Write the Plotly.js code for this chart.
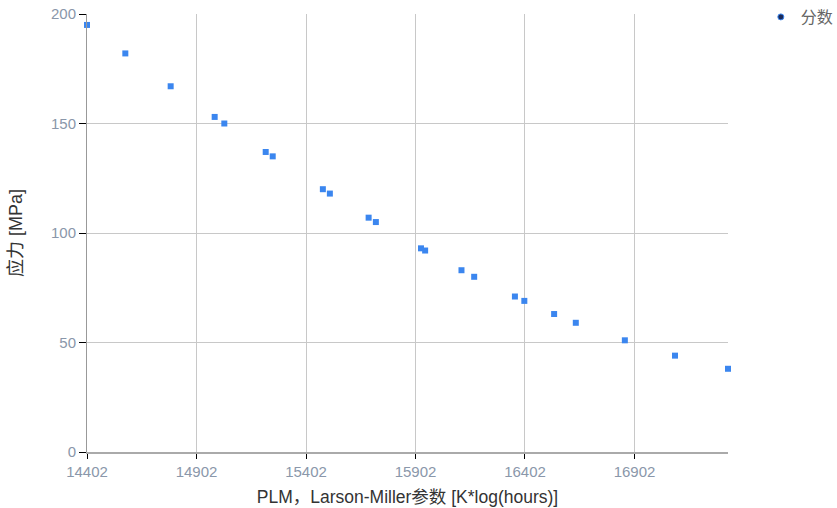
<!DOCTYPE html>
<html>
<head>
<meta charset="utf-8">
<script src="https://cdn.plot.ly/plotly-3.0.1.min.js"></script>
<style>html,body{margin:0;padding:0;background:#fff;}#chart{width:837px;height:508px;}</style>
</head>
<body>
<div id="chart"></div>
<script>
const seriesName = '分数';
const plmValues = [14402, 14577, 14784, 14985, 15029, 15218, 15250, 15479, 15511, 15688, 15721, 15927, 15946, 16112, 16170, 16356, 16399, 16535, 16634, 16858, 17087, 17329];
const stressValues = [195, 182, 167, 153, 150, 137, 135, 120, 118, 107, 105, 93, 92, 83, 80, 71, 69, 63, 59, 51, 44, 38];
const xTickValues = [14402, 14902, 15402, 15902, 16402, 16902];
const yTickValues = [0, 50, 100, 150, 200];
const xTitle = 'PLM，Larson-Miller参数 [K*log(hours)]';
const yTitle = '应力 [MPa]';

const fontFam = '"Liberation Sans", Arial, "Noto Sans CJK SC", sans-serif';

const traces = [
  {
    x: plmValues, y: stressValues, type: 'scatter', mode: 'markers',
    name: seriesName, showlegend: false, cliponaxis: false,
    marker: {symbol: 'square', size: 6, color: '#3b86ef'}
  },
  {
    x: [null], y: [null], type: 'scatter', mode: 'markers',
    name: seriesName, showlegend: true,
    marker: {symbol: 'circle', size: 6, color: '#1a2a5a', line: {color: '#3b86ef', width: 1}}
  }
];

const layout = {
  width: 837, height: 508,
  margin: {l: 87, r: 109, t: 14, b: 56, autoexpand: false},
  paper_bgcolor: '#fff', plot_bgcolor: '#fff',
  showlegend: true,
  legend: {xref: 'container', yref: 'container', x: 0.909, y: 1.008, xanchor: 'left', yanchor: 'top',
           font: {family: fontFam, size: 16, color: '#666'}, bgcolor: 'rgba(0,0,0,0)'},
  xaxis: {
    range: [14402, 17329], tickvals: xTickValues, ticktext: xTickValues.map(String),
    showgrid: true, gridcolor: '#c8c8c8', gridwidth: 1,
    showline: true, linecolor: '#aaa', linewidth: 2, mirror: false,
    ticks: 'outside', ticklen: 5, tickcolor: '#000', tickwidth: 1,
    zeroline: false,
    tickfont: {family: fontFam, size: 15, color: '#8a97aa'},
    title: {text: xTitle, font: {family: fontFam, size: 17.5, color: '#333'}, standoff: 12}
  },
  yaxis: {
    range: [0, 200], tickvals: yTickValues,
    showgrid: true, gridcolor: '#c8c8c8', gridwidth: 1,
    showline: true, linecolor: '#999', linewidth: 1,
    ticks: 'outside', ticklen: 7, tickcolor: '#000', tickwidth: 1,
    zeroline: false,
    tickfont: {family: fontFam, size: 15, color: '#8a97aa'},
    title: {text: yTitle, font: {family: fontFam, size: 18, color: '#333'}, standoff: 23}
  }
};

Plotly.newPlot('chart', traces, layout, {displayModeBar: false, staticPlot: true});
</script>
</body>
</html>
